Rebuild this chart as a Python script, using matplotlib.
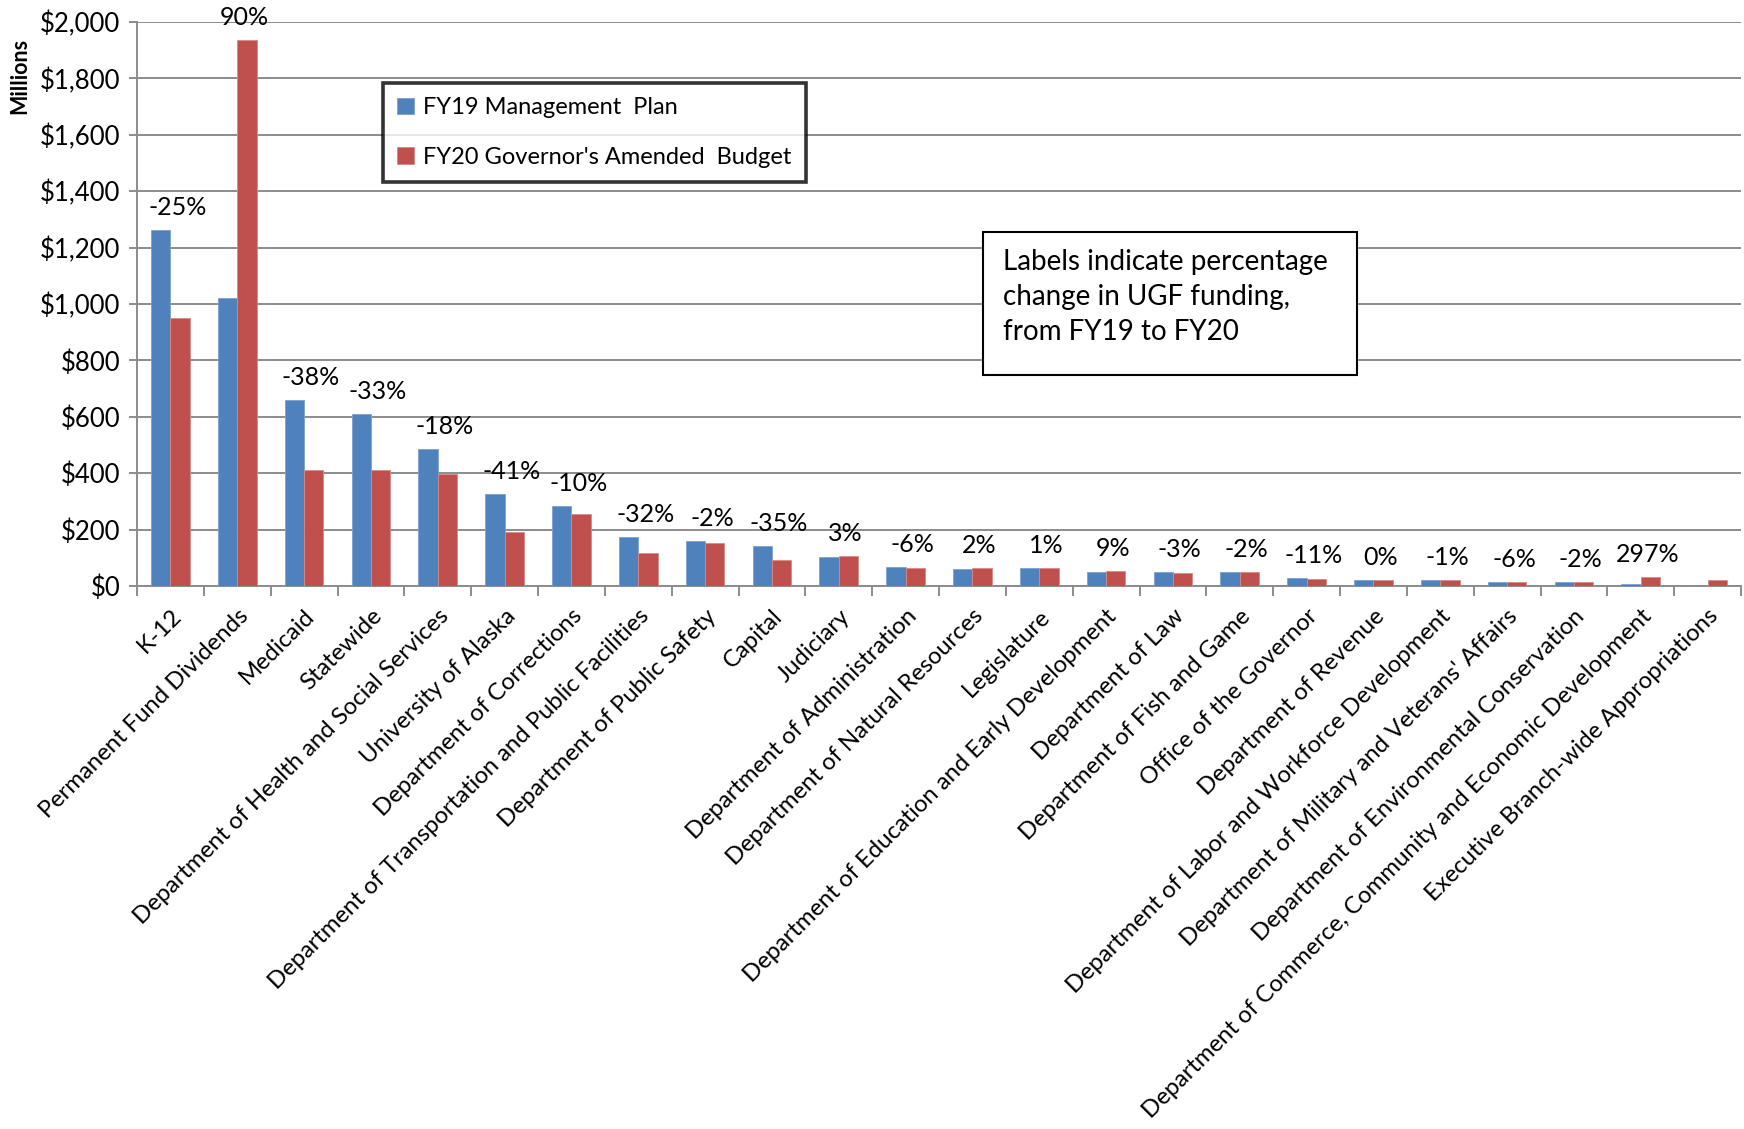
""" UGF funding by agency, FY19 Management Plan vs FY20 Governor's Amended Budget """

import numpy as np
import matplotlib.pyplot as plt
from matplotlib.patches import Rectangle
from matplotlib.ticker import FuncFormatter, MultipleLocator

# Data (millions of dollars)
categories = ['K-12', 'Permanent Fund Dividends', 'Medicaid', 'Statewide',
              'Department of Health and Social Services', 'University of Alaska',
              'Department of Corrections',
              'Department of Transportation and Public Facilities',
              'Department of Public Safety', 'Capital', 'Judiciary',
              'Department of Administration', 'Department of Natural Resources',
              'Legislature', 'Department of Education and Early Development',
              'Department of Law', 'Department of Fish and Game',
              'Office of the Governor', 'Department of Revenue',
              'Department of Labor and Workforce Development',
              "Department of Military and Veterans' Affairs",
              'Department of Environmental Conservation',
              'Department of Commerce, Community and Economic Development',
              'Executive Branch-wide Appropriations']
fy19 = [1262, 1022, 659, 611, 485, 327, 284, 174, 158, 142, 104,
        68, 62, 63, 48, 48, 50, 29, 21, 20, 15, 15, 8, 0]
fy20 = [951, 1937, 410, 410, 398, 193, 256, 118, 154, 92, 107,
        64, 63, 64, 52, 47, 49, 26, 21, 20, 14, 14.5, 33, 21]
pct_labels = ['-25%', '90%', '-38%', '-33%', '-18%', '-41%', '-10%', '-32%',
              '-2%', '-35%', '3%', '-6%', '2%', '1%', '9%', '-3%', '-2%',
              '-11%', '0%', '-1%', '-6%', '-2%', '297%', '']

plt.rcParams['font.family'] = ['Lato', 'DejaVu Sans']

BLUE = '#4F81BD'
RED = '#C0504D'
GRID = '#8c8c8c'

fig = plt.figure(figsize=(17.44, 11.29), dpi=100)
ax = fig.add_axes([137 / 1744, 1 - 586 / 1129, 1604 / 1744, 564 / 1129])

x = np.arange(len(categories))
w = 0.29
ax.bar(x - w / 2, fy19, w, color=BLUE, edgecolor='#7da1cf', linewidth=0.6,
       label='FY19 Management  Plan', zorder=3)
ax.bar(x + w / 2, fy20, w, color=RED, edgecolor='#d98a88', linewidth=0.6,
       label="FY20 Governor's Amended  Budget", zorder=3)

# percentage change labels above each pair
for xi, a, b, txt in zip(x, fy19, fy20, pct_labels):
    ax.annotate(txt, (xi, max(a, b)), xytext=(5, 8), textcoords='offset points',
                ha='center', va='bottom', fontsize=18)

ax.set_xlim(-0.5, len(categories) - 0.5)
ax.set_ylim(0, 2000)
ax.yaxis.set_major_locator(MultipleLocator(200))
ax.yaxis.set_major_formatter(FuncFormatter(lambda v, p: '${:,.0f}'.format(v)))
ax.yaxis.grid(True, color=GRID, linewidth=1.4, zorder=0)

ax.set_xticks(x)
ax.set_xticklabels(categories, rotation=45, ha='right', rotation_mode='anchor',
                   fontsize=17.2)
ax.set_xticks(np.arange(len(categories) + 1) - 0.5, minor=True)
ax.tick_params(axis='x', which='major', length=0, pad=14)
ax.tick_params(axis='x', which='minor', length=7, width=1.4, color=GRID,
               direction='out')
ax.tick_params(axis='y', labelsize=18.5, length=6, width=1.4, color=GRID, pad=6)

for side in ['top', 'right']:
    ax.spines[side].set_visible(False)
for side in ['left', 'bottom']:
    ax.spines[side].set_color(GRID)
    ax.spines[side].set_linewidth(1.4)

fig.text(20 / 1744, 1 - 76 / 1129, 'Millions', rotation=90, fontsize=15.5,
         fontweight='bold', ha='center', va='center')

leg = ax.legend(loc='upper left', bbox_to_anchor=(383 / 1744, 1 - 83 / 1129),
                bbox_transform=fig.transFigure, fontsize=17, frameon=True,
                fancybox=False, edgecolor='black', handlelength=0.7,
                handleheight=0.7, handletextpad=0.4, labelspacing=1.2,
                borderpad=0.6, borderaxespad=0)
leg.get_frame().set_linewidth(2.6)
leg.set_zorder(5)

# note box
box = Rectangle((983 / 1744, 1 - 375 / 1129), 374 / 1744, 143 / 1129,
                transform=fig.transFigure, facecolor='white', edgecolor='black',
                linewidth=1.5, zorder=5)
fig.patches.append(box)
fig.text(1003 / 1744, 1 - 249 / 1129,
         'Labels indicate percentage\nchange in UGF funding,\nfrom FY19 to FY20',
         fontsize=20, ha='left', va='top', linespacing=1.42, zorder=6)

fig.savefig('out.png', dpi=100)
